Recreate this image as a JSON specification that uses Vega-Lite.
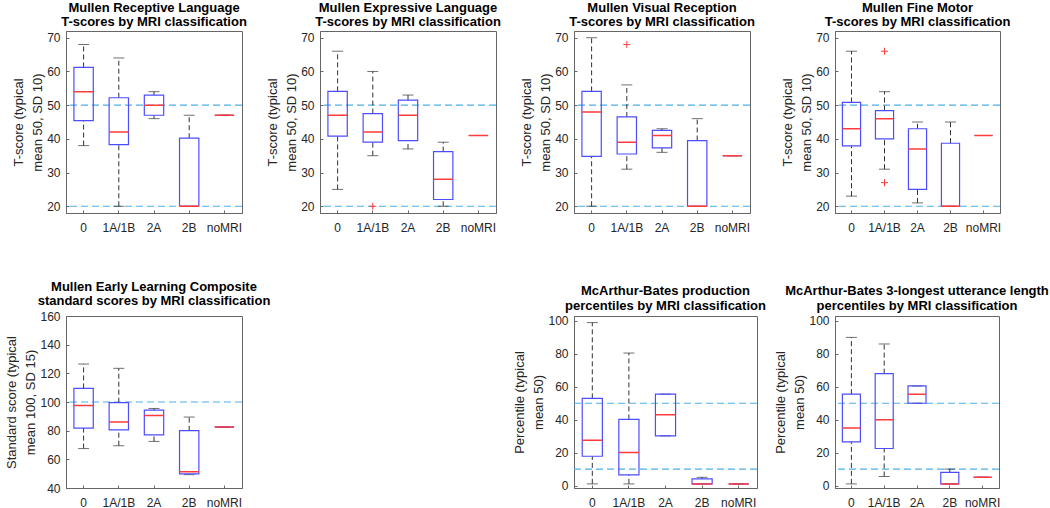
{
  "$schema": "https://vega.github.io/schema/vega-lite/v6.json",
  "background": "white",
  "padding": {"left": 5, "top": 1, "right": 0, "bottom": 0},
  "config": {
    "font": "Liberation Sans",
    "view": {"stroke": "#666", "strokeWidth": 1},
    "axis": {"labelFont": "Liberation Sans", "labelFontSize": 12, "labelColor": "#262626", "titleFont": "Liberation Sans", "titleFontSize": 13, "titleFontWeight": "normal", "titleColor": "#262626", "domainColor": "#666", "tickColor": "#666", "grid": false, "labelOverlap": false},
    "axisX": {"labelAngle": 0, "title": null, "tickSize": -3, "labelPadding": 12},
    "axisY": {"tickSize": -3, "labelPadding": 9, "titleLineHeight": 19, "titlePadding": 2},
    "title": {"fontSize": 13, "font": "Liberation Sans", "fontWeight": "bold", "color": "#000", "offset": 2, "anchor": "middle", "frame": "group", "lineHeight": 14.5}
  },
  "datasets": {
    "boxes": [
      {"p": "RL", "g": "0", "lo": 38, "q1": 45.4, "med": 54, "q3": 61.2, "hi": 68},
      {"p": "RL", "g": "1A/1B", "lo": 20, "q1": 38.3, "med": 42, "q3": 52.2, "hi": 64},
      {"p": "RL", "g": "2A", "lo": 46, "q1": 47, "med": 50, "q3": 53, "hi": 54},
      {"p": "RL", "g": "2B", "lo": 20, "q1": 20, "med": 20, "q3": 40.2, "hi": 47},
      {"p": "RL", "g": "noMRI", "lo": 47, "q1": 47, "med": 47, "q3": 47, "hi": 47},
      {"p": "EL", "g": "0", "lo": 25, "q1": 40.8, "med": 47, "q3": 54.1, "hi": 66},
      {"p": "EL", "g": "1A/1B", "lo": 35, "q1": 39, "med": 42, "q3": 47.5, "hi": 60},
      {"p": "EL", "g": "2A", "lo": 37, "q1": 39.5, "med": 47, "q3": 51.5, "hi": 53},
      {"p": "EL", "g": "2B", "lo": 20, "q1": 22, "med": 28, "q3": 36.2, "hi": 39},
      {"p": "EL", "g": "noMRI", "lo": 41, "q1": 41, "med": 41, "q3": 41, "hi": 41},
      {"p": "VR", "g": "0", "lo": 20, "q1": 34.8, "med": 48, "q3": 54.1, "hi": 70},
      {"p": "VR", "g": "1A/1B", "lo": 31, "q1": 35.5, "med": 39, "q3": 46.5, "hi": 56},
      {"p": "VR", "g": "2A", "lo": 36, "q1": 37.3, "med": 41, "q3": 42.5, "hi": 43},
      {"p": "VR", "g": "2B", "lo": 20, "q1": 20, "med": 20, "q3": 39.5, "hi": 46},
      {"p": "VR", "g": "noMRI", "lo": 35, "q1": 35, "med": 35, "q3": 35, "hi": 35},
      {"p": "FM", "g": "0", "lo": 23, "q1": 37.9, "med": 43, "q3": 50.8, "hi": 66},
      {"p": "FM", "g": "1A/1B", "lo": 31, "q1": 40, "med": 46, "q3": 48.4, "hi": 54},
      {"p": "FM", "g": "2A", "lo": 21, "q1": 25, "med": 37, "q3": 43, "hi": 45},
      {"p": "FM", "g": "2B", "lo": 20, "q1": 20, "med": 20, "q3": 38.7, "hi": 45},
      {"p": "FM", "g": "noMRI", "lo": 41, "q1": 41, "med": 41, "q3": 41, "hi": 41},
      {"p": "ELC", "g": "0", "lo": 67.5, "q1": 81.8, "med": 97.5, "q3": 109.5, "hi": 126.5},
      {"p": "ELC", "g": "1A/1B", "lo": 69.5, "q1": 80.5, "med": 86, "q3": 99.5, "hi": 123.5},
      {"p": "ELC", "g": "2A", "lo": 72.5, "q1": 77, "med": 90.5, "q3": 94.3, "hi": 95.5},
      {"p": "ELC", "g": "2B", "lo": 49.3, "q1": 49.8, "med": 51.3, "q3": 80, "hi": 89.5},
      {"p": "ELC", "g": "noMRI", "lo": 82.5, "q1": 82.5, "med": 82.5, "q3": 82.5, "hi": 82.5},
      {"p": "MBP", "g": "0", "lo": 1, "q1": 17.8, "med": 27.5, "q3": 53, "hi": 99},
      {"p": "MBP", "g": "1A/1B", "lo": 1, "q1": 6.5, "med": 20, "q3": 40.2, "hi": 80.5},
      {"p": "MBP", "g": "2A", "lo": 30.2, "q1": 30.2, "med": 43, "q3": 55.5, "hi": 55.5},
      {"p": "MBP", "g": "2B", "lo": 1, "q1": 1, "med": 1, "q3": 4, "hi": 5},
      {"p": "MBP", "g": "noMRI", "lo": 1, "q1": 1, "med": 1, "q3": 1, "hi": 1},
      {"p": "MBU", "g": "0", "lo": 1, "q1": 26.5, "med": 35, "q3": 55.5, "hi": 90},
      {"p": "MBU", "g": "1A/1B", "lo": 5.5, "q1": 22.5, "med": 40, "q3": 68, "hi": 86},
      {"p": "MBU", "g": "2A", "lo": 50, "q1": 50, "med": 55.5, "q3": 60.5, "hi": 60.5},
      {"p": "MBU", "g": "2B", "lo": 1, "q1": 1, "med": 1, "q3": 8, "hi": 10},
      {"p": "MBU", "g": "noMRI", "lo": 5, "q1": 5, "med": 5, "q3": 5, "hi": 5}
    ],
    "refs": [
      {"p": "RL", "v": 50}, {"p": "RL", "v": 20},
      {"p": "EL", "v": 50}, {"p": "EL", "v": 20},
      {"p": "VR", "v": 50}, {"p": "VR", "v": 20},
      {"p": "FM", "v": 50}, {"p": "FM", "v": 20},
      {"p": "ELC", "v": 100},
      {"p": "MBP", "v": 50}, {"p": "MBP", "v": 10},
      {"p": "MBU", "v": 50}, {"p": "MBU", "v": 10}
    ],
    "outs": [
      {"p": "EL", "g": "1A/1B", "v": 20},
      {"p": "VR", "g": "1A/1B", "v": 68},
      {"p": "FM", "g": "1A/1B", "v": 66},
      {"p": "FM", "g": "1A/1B", "v": 27}
    ]
  },
  "columns": 4,
  "align": "none",
  "bounds": "flush",
  "spacing": {"row": 103, "column": 78},
  "concat": [
    {
      "width": 176, "height": 182,
      "title": {"text": ["Mullen Receptive Language", "T-scores by MRI classification"]},
      "layer": [
        {"data": {"name": "refs"}, "transform": [{"filter": "datum.p === 'RL'"}],
         "mark": {"type": "rule", "color": "#4DAEE8", "strokeDash": [7, 4], "strokeWidth": 1.2},
         "encoding": {"y": {"field": "v", "type": "quantitative", "scale": {"domain": [18, 72], "nice": false, "zero": false}, "axis": {"values": [20, 30, 40, 50, 60, 70], "labelOverlap": false, "title": ["T-score (typical", "mean 50, SD 10)"]}}}},
        {"data": {"name": "boxes"}, "transform": [{"filter": "datum.p === 'RL'"}],
         "layer": [
           {"mark": {"type": "rule", "color": "#333", "strokeDash": [5, 3], "strokeWidth": 1}, "encoding": {"y": {"field": "lo", "type": "quantitative", "axis": {"values": [20, 30, 40, 50, 60, 70], "labelOverlap": false, "title": ["T-score (typical", "mean 50, SD 10)"]}}, "y2": {"field": "q1"}}},
           {"mark": {"type": "rule", "color": "#333", "strokeDash": [5, 3], "strokeWidth": 1}, "encoding": {"y": {"field": "q3", "type": "quantitative", "axis": {"values": [20, 30, 40, 50, 60, 70], "labelOverlap": false, "title": ["T-score (typical", "mean 50, SD 10)"]}}, "y2": {"field": "hi"}}},
           {"mark": {"type": "tick", "color": "#333", "size": 11, "thickness": 1}, "encoding": {"y": {"field": "lo", "type": "quantitative", "axis": {"values": [20, 30, 40, 50, 60, 70], "labelOverlap": false, "title": ["T-score (typical", "mean 50, SD 10)"]}}}},
           {"mark": {"type": "tick", "color": "#333", "size": 11, "thickness": 1}, "encoding": {"y": {"field": "hi", "type": "quantitative", "axis": {"values": [20, 30, 40, 50, 60, 70], "labelOverlap": false, "title": ["T-score (typical", "mean 50, SD 10)"]}}}},
           {"mark": {"type": "bar", "width": {"band": 0.55}, "fill": "#fff", "fillOpacity": 0, "stroke": "#4d4dff", "strokeWidth": 1.2}, "encoding": {"y": {"field": "q1", "type": "quantitative", "axis": {"values": [20, 30, 40, 50, 60, 70], "labelOverlap": false, "title": ["T-score (typical", "mean 50, SD 10)"]}}, "y2": {"field": "q3"}}},
           {"mark": {"type": "bar", "width": {"band": 0.55}, "fill": "#fff", "fillOpacity": 0, "stroke": "#ff3b3b", "strokeWidth": 1.5}, "encoding": {"y": {"field": "med", "type": "quantitative", "axis": {"values": [20, 30, 40, 50, 60, 70], "labelOverlap": false, "title": ["T-score (typical", "mean 50, SD 10)"]}}, "y2": {"field": "med"}}}
         ],
         "encoding": {"x": {"field": "g", "type": "nominal", "scale": {"domain": ["0", "1A/1B", "2A", "2B", "noMRI"], "paddingInner": 0, "paddingOuter": 0}, "axis": {"title": null}}}}
      ]
    },
    {
      "width": 176, "height": 182,
      "title": {"text": ["Mullen Expressive Language", "T-scores by MRI classification"]},
      "layer": [
        {"data": {"name": "refs"}, "transform": [{"filter": "datum.p === 'EL'"}],
         "mark": {"type": "rule", "color": "#4DAEE8", "strokeDash": [7, 4], "strokeWidth": 1.2},
         "encoding": {"y": {"field": "v", "type": "quantitative", "scale": {"domain": [18, 72], "nice": false, "zero": false}, "axis": {"values": [20, 30, 40, 50, 60, 70], "labelOverlap": false, "title": ["T-score (typical", "mean 50, SD 10)"]}}}},
        {"data": {"name": "boxes"}, "transform": [{"filter": "datum.p === 'EL'"}],
         "layer": [
           {"mark": {"type": "rule", "color": "#333", "strokeDash": [5, 3], "strokeWidth": 1}, "encoding": {"y": {"field": "lo", "type": "quantitative", "axis": {"values": [20, 30, 40, 50, 60, 70], "labelOverlap": false, "title": ["T-score (typical", "mean 50, SD 10)"]}}, "y2": {"field": "q1"}}},
           {"mark": {"type": "rule", "color": "#333", "strokeDash": [5, 3], "strokeWidth": 1}, "encoding": {"y": {"field": "q3", "type": "quantitative", "axis": {"values": [20, 30, 40, 50, 60, 70], "labelOverlap": false, "title": ["T-score (typical", "mean 50, SD 10)"]}}, "y2": {"field": "hi"}}},
           {"mark": {"type": "tick", "color": "#333", "size": 11, "thickness": 1}, "encoding": {"y": {"field": "lo", "type": "quantitative", "axis": {"values": [20, 30, 40, 50, 60, 70], "labelOverlap": false, "title": ["T-score (typical", "mean 50, SD 10)"]}}}},
           {"mark": {"type": "tick", "color": "#333", "size": 11, "thickness": 1}, "encoding": {"y": {"field": "hi", "type": "quantitative", "axis": {"values": [20, 30, 40, 50, 60, 70], "labelOverlap": false, "title": ["T-score (typical", "mean 50, SD 10)"]}}}},
           {"mark": {"type": "bar", "width": {"band": 0.55}, "fill": "#fff", "fillOpacity": 0, "stroke": "#4d4dff", "strokeWidth": 1.2}, "encoding": {"y": {"field": "q1", "type": "quantitative", "axis": {"values": [20, 30, 40, 50, 60, 70], "labelOverlap": false, "title": ["T-score (typical", "mean 50, SD 10)"]}}, "y2": {"field": "q3"}}},
           {"mark": {"type": "bar", "width": {"band": 0.55}, "fill": "#fff", "fillOpacity": 0, "stroke": "#ff3b3b", "strokeWidth": 1.5}, "encoding": {"y": {"field": "med", "type": "quantitative", "axis": {"values": [20, 30, 40, 50, 60, 70], "labelOverlap": false, "title": ["T-score (typical", "mean 50, SD 10)"]}}, "y2": {"field": "med"}}}
         ],
         "encoding": {"x": {"field": "g", "type": "nominal", "scale": {"domain": ["0", "1A/1B", "2A", "2B", "noMRI"], "paddingInner": 0, "paddingOuter": 0}, "axis": {"title": null}}}},
        {"data": {"name": "outs"}, "transform": [{"filter": "datum.p === 'EL'"}],
         "mark": {"type": "point", "shape": "M-1,0L1,0M0,-1L0,1", "size": 49, "filled": false, "stroke": "#ff3b3b", "strokeWidth": 1, "opacity": 1},
         "encoding": {"x": {"field": "g", "type": "nominal"}, "y": {"field": "v", "type": "quantitative", "axis": {"values": [20, 30, 40, 50, 60, 70], "labelOverlap": false, "title": ["T-score (typical", "mean 50, SD 10)"]}}}}
      ]
    },
    {
      "width": 176, "height": 182,
      "title": {"text": ["Mullen Visual Reception", "T-scores by MRI classification"]},
      "layer": [
        {"data": {"name": "refs"}, "transform": [{"filter": "datum.p === 'VR'"}],
         "mark": {"type": "rule", "color": "#4DAEE8", "strokeDash": [7, 4], "strokeWidth": 1.2},
         "encoding": {"y": {"field": "v", "type": "quantitative", "scale": {"domain": [18, 72], "nice": false, "zero": false}, "axis": {"values": [20, 30, 40, 50, 60, 70], "labelOverlap": false, "title": ["T-score (typical", "mean 50, SD 10)"]}}}},
        {"data": {"name": "boxes"}, "transform": [{"filter": "datum.p === 'VR'"}],
         "layer": [
           {"mark": {"type": "rule", "color": "#333", "strokeDash": [5, 3], "strokeWidth": 1}, "encoding": {"y": {"field": "lo", "type": "quantitative", "axis": {"values": [20, 30, 40, 50, 60, 70], "labelOverlap": false, "title": ["T-score (typical", "mean 50, SD 10)"]}}, "y2": {"field": "q1"}}},
           {"mark": {"type": "rule", "color": "#333", "strokeDash": [5, 3], "strokeWidth": 1}, "encoding": {"y": {"field": "q3", "type": "quantitative", "axis": {"values": [20, 30, 40, 50, 60, 70], "labelOverlap": false, "title": ["T-score (typical", "mean 50, SD 10)"]}}, "y2": {"field": "hi"}}},
           {"mark": {"type": "tick", "color": "#333", "size": 11, "thickness": 1}, "encoding": {"y": {"field": "lo", "type": "quantitative", "axis": {"values": [20, 30, 40, 50, 60, 70], "labelOverlap": false, "title": ["T-score (typical", "mean 50, SD 10)"]}}}},
           {"mark": {"type": "tick", "color": "#333", "size": 11, "thickness": 1}, "encoding": {"y": {"field": "hi", "type": "quantitative", "axis": {"values": [20, 30, 40, 50, 60, 70], "labelOverlap": false, "title": ["T-score (typical", "mean 50, SD 10)"]}}}},
           {"mark": {"type": "bar", "width": {"band": 0.55}, "fill": "#fff", "fillOpacity": 0, "stroke": "#4d4dff", "strokeWidth": 1.2}, "encoding": {"y": {"field": "q1", "type": "quantitative", "axis": {"values": [20, 30, 40, 50, 60, 70], "labelOverlap": false, "title": ["T-score (typical", "mean 50, SD 10)"]}}, "y2": {"field": "q3"}}},
           {"mark": {"type": "bar", "width": {"band": 0.55}, "fill": "#fff", "fillOpacity": 0, "stroke": "#ff3b3b", "strokeWidth": 1.5}, "encoding": {"y": {"field": "med", "type": "quantitative", "axis": {"values": [20, 30, 40, 50, 60, 70], "labelOverlap": false, "title": ["T-score (typical", "mean 50, SD 10)"]}}, "y2": {"field": "med"}}}
         ],
         "encoding": {"x": {"field": "g", "type": "nominal", "scale": {"domain": ["0", "1A/1B", "2A", "2B", "noMRI"], "paddingInner": 0, "paddingOuter": 0}, "axis": {"title": null}}}},
        {"data": {"name": "outs"}, "transform": [{"filter": "datum.p === 'VR'"}],
         "mark": {"type": "point", "shape": "M-1,0L1,0M0,-1L0,1", "size": 49, "filled": false, "stroke": "#ff3b3b", "strokeWidth": 1, "opacity": 1},
         "encoding": {"x": {"field": "g", "type": "nominal"}, "y": {"field": "v", "type": "quantitative", "axis": {"values": [20, 30, 40, 50, 60, 70], "labelOverlap": false, "title": ["T-score (typical", "mean 50, SD 10)"]}}}}
      ]
    },
    {
      "width": 165, "height": 182,
      "title": {"text": ["Mullen Fine Motor", "T-scores by MRI classification"]},
      "layer": [
        {"data": {"name": "refs"}, "transform": [{"filter": "datum.p === 'FM'"}],
         "mark": {"type": "rule", "color": "#4DAEE8", "strokeDash": [7, 4], "strokeWidth": 1.2},
         "encoding": {"y": {"field": "v", "type": "quantitative", "scale": {"domain": [18, 72], "nice": false, "zero": false}, "axis": {"values": [20, 30, 40, 50, 60, 70], "labelOverlap": false, "title": ["T-score (typical", "mean 50, SD 10)"]}}}},
        {"data": {"name": "boxes"}, "transform": [{"filter": "datum.p === 'FM'"}],
         "layer": [
           {"mark": {"type": "rule", "color": "#333", "strokeDash": [5, 3], "strokeWidth": 1}, "encoding": {"y": {"field": "lo", "type": "quantitative", "axis": {"values": [20, 30, 40, 50, 60, 70], "labelOverlap": false, "title": ["T-score (typical", "mean 50, SD 10)"]}}, "y2": {"field": "q1"}}},
           {"mark": {"type": "rule", "color": "#333", "strokeDash": [5, 3], "strokeWidth": 1}, "encoding": {"y": {"field": "q3", "type": "quantitative", "axis": {"values": [20, 30, 40, 50, 60, 70], "labelOverlap": false, "title": ["T-score (typical", "mean 50, SD 10)"]}}, "y2": {"field": "hi"}}},
           {"mark": {"type": "tick", "color": "#333", "size": 11, "thickness": 1}, "encoding": {"y": {"field": "lo", "type": "quantitative", "axis": {"values": [20, 30, 40, 50, 60, 70], "labelOverlap": false, "title": ["T-score (typical", "mean 50, SD 10)"]}}}},
           {"mark": {"type": "tick", "color": "#333", "size": 11, "thickness": 1}, "encoding": {"y": {"field": "hi", "type": "quantitative", "axis": {"values": [20, 30, 40, 50, 60, 70], "labelOverlap": false, "title": ["T-score (typical", "mean 50, SD 10)"]}}}},
           {"mark": {"type": "bar", "width": {"band": 0.55}, "fill": "#fff", "fillOpacity": 0, "stroke": "#4d4dff", "strokeWidth": 1.2}, "encoding": {"y": {"field": "q1", "type": "quantitative", "axis": {"values": [20, 30, 40, 50, 60, 70], "labelOverlap": false, "title": ["T-score (typical", "mean 50, SD 10)"]}}, "y2": {"field": "q3"}}},
           {"mark": {"type": "bar", "width": {"band": 0.55}, "fill": "#fff", "fillOpacity": 0, "stroke": "#ff3b3b", "strokeWidth": 1.5}, "encoding": {"y": {"field": "med", "type": "quantitative", "axis": {"values": [20, 30, 40, 50, 60, 70], "labelOverlap": false, "title": ["T-score (typical", "mean 50, SD 10)"]}}, "y2": {"field": "med"}}}
         ],
         "encoding": {"x": {"field": "g", "type": "nominal", "scale": {"domain": ["0", "1A/1B", "2A", "2B", "noMRI"], "paddingInner": 0, "paddingOuter": 0}, "axis": {"title": null}}}},
        {"data": {"name": "outs"}, "transform": [{"filter": "datum.p === 'FM'"}],
         "mark": {"type": "point", "shape": "M-1,0L1,0M0,-1L0,1", "size": 49, "filled": false, "stroke": "#ff3b3b", "strokeWidth": 1, "opacity": 1},
         "encoding": {"x": {"field": "g", "type": "nominal"}, "y": {"field": "v", "type": "quantitative", "axis": {"values": [20, 30, 40, 50, 60, 70], "labelOverlap": false, "title": ["T-score (typical", "mean 50, SD 10)"]}}}}
      ]
    },
    {
      "width": 176, "height": 172,
      "title": {"text": ["Mullen Early Learning Composite", "standard scores by MRI classification"]},
      "layer": [
        {"data": {"name": "refs"}, "transform": [{"filter": "datum.p === 'ELC'"}],
         "mark": {"type": "rule", "color": "#4DAEE8", "strokeDash": [7, 4], "strokeWidth": 1.2},
         "encoding": {"y": {"field": "v", "type": "quantitative", "scale": {"domain": [40, 160], "nice": false, "zero": false}, "axis": {"values": [40, 60, 80, 100, 120, 140, 160], "labelOverlap": false, "title": ["Standard score (typical", "mean 100, SD 15)"]}}}},
        {"data": {"name": "boxes"}, "transform": [{"filter": "datum.p === 'ELC'"}],
         "layer": [
           {"mark": {"type": "rule", "color": "#333", "strokeDash": [5, 3], "strokeWidth": 1}, "encoding": {"y": {"field": "lo", "type": "quantitative", "axis": {"values": [40, 60, 80, 100, 120, 140, 160], "labelOverlap": false, "title": ["Standard score (typical", "mean 100, SD 15)"]}}, "y2": {"field": "q1"}}},
           {"mark": {"type": "rule", "color": "#333", "strokeDash": [5, 3], "strokeWidth": 1}, "encoding": {"y": {"field": "q3", "type": "quantitative", "axis": {"values": [40, 60, 80, 100, 120, 140, 160], "labelOverlap": false, "title": ["Standard score (typical", "mean 100, SD 15)"]}}, "y2": {"field": "hi"}}},
           {"mark": {"type": "tick", "color": "#333", "size": 11, "thickness": 1}, "encoding": {"y": {"field": "lo", "type": "quantitative", "axis": {"values": [40, 60, 80, 100, 120, 140, 160], "labelOverlap": false, "title": ["Standard score (typical", "mean 100, SD 15)"]}}}},
           {"mark": {"type": "tick", "color": "#333", "size": 11, "thickness": 1}, "encoding": {"y": {"field": "hi", "type": "quantitative", "axis": {"values": [40, 60, 80, 100, 120, 140, 160], "labelOverlap": false, "title": ["Standard score (typical", "mean 100, SD 15)"]}}}},
           {"mark": {"type": "bar", "width": {"band": 0.55}, "fill": "#fff", "fillOpacity": 0, "stroke": "#4d4dff", "strokeWidth": 1.2}, "encoding": {"y": {"field": "q1", "type": "quantitative", "axis": {"values": [40, 60, 80, 100, 120, 140, 160], "labelOverlap": false, "title": ["Standard score (typical", "mean 100, SD 15)"]}}, "y2": {"field": "q3"}}},
           {"mark": {"type": "bar", "width": {"band": 0.55}, "fill": "#fff", "fillOpacity": 0, "stroke": "#ff3b3b", "strokeWidth": 1.5}, "encoding": {"y": {"field": "med", "type": "quantitative", "axis": {"values": [40, 60, 80, 100, 120, 140, 160], "labelOverlap": false, "title": ["Standard score (typical", "mean 100, SD 15)"]}}, "y2": {"field": "med"}}}
         ],
         "encoding": {"x": {"field": "g", "type": "nominal", "scale": {"domain": ["0", "1A/1B", "2A", "2B", "noMRI"], "paddingInner": 0, "paddingOuter": 0}, "axis": {"title": null}}}}
      ]
    },
    {
      "width": 169, "height": 172,
      "view": {"stroke": null},
      "data": {"values": [{}]},
      "mark": {"type": "text"},
      "encoding": {"text": {"value": ""}}
    },
    {
      "width": 183, "height": 172,
      "title": {"text": ["McArthur-Bates production", "percentiles by MRI classification"]},
      "layer": [
        {"data": {"name": "refs"}, "transform": [{"filter": "datum.p === 'MBP'"}],
         "mark": {"type": "rule", "color": "#4DAEE8", "strokeDash": [7, 4], "strokeWidth": 1.2},
         "encoding": {"y": {"field": "v", "type": "quantitative", "scale": {"domain": [-1.5, 103], "nice": false, "zero": false}, "axis": {"values": [0, 20, 40, 60, 80, 100], "labelOverlap": false, "title": ["Percentile (typical", "mean 50)"]}}}},
        {"data": {"name": "boxes"}, "transform": [{"filter": "datum.p === 'MBP'"}],
         "layer": [
           {"mark": {"type": "rule", "color": "#333", "strokeDash": [5, 3], "strokeWidth": 1}, "encoding": {"y": {"field": "lo", "type": "quantitative", "axis": {"values": [0, 20, 40, 60, 80, 100], "labelOverlap": false, "title": ["Percentile (typical", "mean 50)"]}}, "y2": {"field": "q1"}}},
           {"mark": {"type": "rule", "color": "#333", "strokeDash": [5, 3], "strokeWidth": 1}, "encoding": {"y": {"field": "q3", "type": "quantitative", "axis": {"values": [0, 20, 40, 60, 80, 100], "labelOverlap": false, "title": ["Percentile (typical", "mean 50)"]}}, "y2": {"field": "hi"}}},
           {"mark": {"type": "tick", "color": "#333", "size": 11, "thickness": 1}, "encoding": {"y": {"field": "lo", "type": "quantitative", "axis": {"values": [0, 20, 40, 60, 80, 100], "labelOverlap": false, "title": ["Percentile (typical", "mean 50)"]}}}},
           {"mark": {"type": "tick", "color": "#333", "size": 11, "thickness": 1}, "encoding": {"y": {"field": "hi", "type": "quantitative", "axis": {"values": [0, 20, 40, 60, 80, 100], "labelOverlap": false, "title": ["Percentile (typical", "mean 50)"]}}}},
           {"mark": {"type": "bar", "width": {"band": 0.55}, "fill": "#fff", "fillOpacity": 0, "stroke": "#4d4dff", "strokeWidth": 1.2}, "encoding": {"y": {"field": "q1", "type": "quantitative", "axis": {"values": [0, 20, 40, 60, 80, 100], "labelOverlap": false, "title": ["Percentile (typical", "mean 50)"]}}, "y2": {"field": "q3"}}},
           {"mark": {"type": "bar", "width": {"band": 0.55}, "fill": "#fff", "fillOpacity": 0, "stroke": "#ff3b3b", "strokeWidth": 1.5}, "encoding": {"y": {"field": "med", "type": "quantitative", "axis": {"values": [0, 20, 40, 60, 80, 100], "labelOverlap": false, "title": ["Percentile (typical", "mean 50)"]}}, "y2": {"field": "med"}}}
         ],
         "encoding": {"x": {"field": "g", "type": "nominal", "scale": {"domain": ["0", "1A/1B", "2A", "2B", "noMRI"], "paddingInner": 0, "paddingOuter": 0}, "axis": {"title": null}}}}
      ]
    },
    {
      "width": 164, "height": 172,
      "title": {"text": ["McArthur-Bates 3-longest utterance length", "percentiles by MRI classification"]},
      "layer": [
        {"data": {"name": "refs"}, "transform": [{"filter": "datum.p === 'MBU'"}],
         "mark": {"type": "rule", "color": "#4DAEE8", "strokeDash": [7, 4], "strokeWidth": 1.2},
         "encoding": {"y": {"field": "v", "type": "quantitative", "scale": {"domain": [-1.5, 103], "nice": false, "zero": false}, "axis": {"values": [0, 20, 40, 60, 80, 100], "labelOverlap": false, "title": ["Percentile (typical", "mean 50)"]}}}},
        {"data": {"name": "boxes"}, "transform": [{"filter": "datum.p === 'MBU'"}],
         "layer": [
           {"mark": {"type": "rule", "color": "#333", "strokeDash": [5, 3], "strokeWidth": 1}, "encoding": {"y": {"field": "lo", "type": "quantitative", "axis": {"values": [0, 20, 40, 60, 80, 100], "labelOverlap": false, "title": ["Percentile (typical", "mean 50)"]}}, "y2": {"field": "q1"}}},
           {"mark": {"type": "rule", "color": "#333", "strokeDash": [5, 3], "strokeWidth": 1}, "encoding": {"y": {"field": "q3", "type": "quantitative", "axis": {"values": [0, 20, 40, 60, 80, 100], "labelOverlap": false, "title": ["Percentile (typical", "mean 50)"]}}, "y2": {"field": "hi"}}},
           {"mark": {"type": "tick", "color": "#333", "size": 11, "thickness": 1}, "encoding": {"y": {"field": "lo", "type": "quantitative", "axis": {"values": [0, 20, 40, 60, 80, 100], "labelOverlap": false, "title": ["Percentile (typical", "mean 50)"]}}}},
           {"mark": {"type": "tick", "color": "#333", "size": 11, "thickness": 1}, "encoding": {"y": {"field": "hi", "type": "quantitative", "axis": {"values": [0, 20, 40, 60, 80, 100], "labelOverlap": false, "title": ["Percentile (typical", "mean 50)"]}}}},
           {"mark": {"type": "bar", "width": {"band": 0.55}, "fill": "#fff", "fillOpacity": 0, "stroke": "#4d4dff", "strokeWidth": 1.2}, "encoding": {"y": {"field": "q1", "type": "quantitative", "axis": {"values": [0, 20, 40, 60, 80, 100], "labelOverlap": false, "title": ["Percentile (typical", "mean 50)"]}}, "y2": {"field": "q3"}}},
           {"mark": {"type": "bar", "width": {"band": 0.55}, "fill": "#fff", "fillOpacity": 0, "stroke": "#ff3b3b", "strokeWidth": 1.5}, "encoding": {"y": {"field": "med", "type": "quantitative", "axis": {"values": [0, 20, 40, 60, 80, 100], "labelOverlap": false, "title": ["Percentile (typical", "mean 50)"]}}, "y2": {"field": "med"}}}
         ],
         "encoding": {"x": {"field": "g", "type": "nominal", "scale": {"domain": ["0", "1A/1B", "2A", "2B", "noMRI"], "paddingInner": 0, "paddingOuter": 0}, "axis": {"title": null}}}}
      ]
    }
  ]
}
